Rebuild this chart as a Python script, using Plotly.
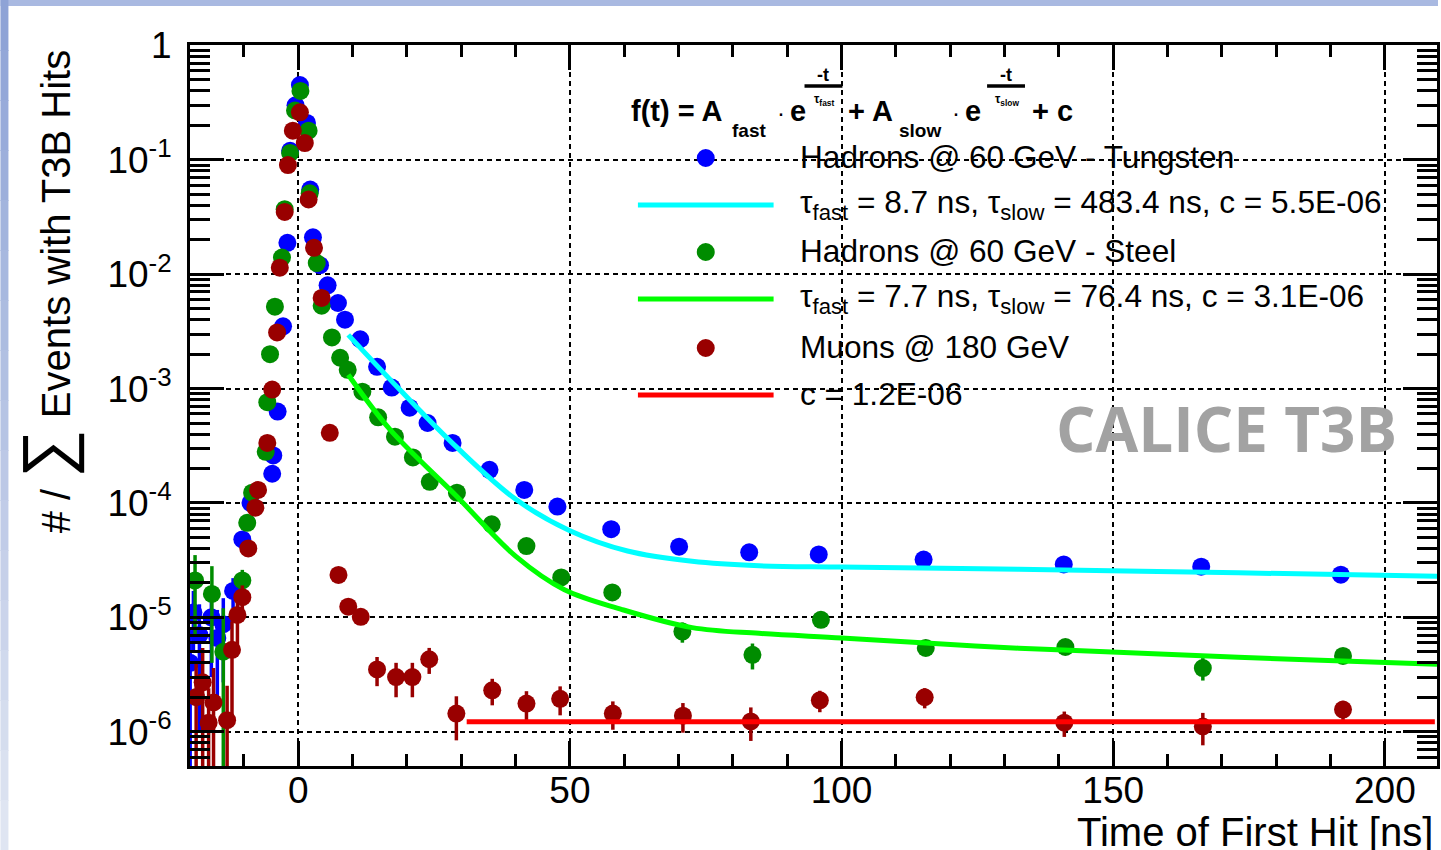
import plotly.graph_objects as go

# ---------------- data ----------------
# Hadrons @ 60 GeV - Tungsten
w_t = [-19.9, -19.3, -18.2, -16.0, -14.9, -13.8, -12.0, -10.3, -8.8, -4.8, -4.6, -3.8,
       -2.8, -2.0, -1.5, -0.5, 0.3, 1.6, 2.2, 2.7, 4.0, 5.4, 7.3, 8.6, 11.4, 14.5,
       17.2, 20.5, 23.8, 28.4, 35.2, 41.6, 47.7, 57.6, 70.1, 83.0, 95.8, 115.1,
       140.9, 166.2, 191.9]
w_frac = [4.0e-6, 1.1e-5, 7.0e-6, 1.0e-5, 6.6e-6, 8.7e-6, 1.7e-5, 4.8e-5, 1.0e-4, 1.8e-4,
          2.6e-4, 6.3e-4, 3.5e-3, 1.88e-2, 1.2e-1, 3.0e-1, 4.5e-1, 2.1e-1, 5.5e-2, 2.1e-2,
          1.2e-2, 8.0e-3, 5.6e-3, 4.0e-3, 2.7e-3, 1.55e-3, 1.02e-3, 6.8e-4, 5.0e-4, 3.35e-4,
          1.95e-4, 1.3e-4, 9.3e-5, 5.9e-5, 4.15e-5, 3.7e-5, 3.55e-5, 3.2e-5, 2.9e-5,
          2.77e-5, 2.36e-5]
w_err = [4.0e-6, 6.0e-6, 6.0e-6, 7.0e-6, 5.0e-6, 6.0e-6, 5.0e-6, 8.0e-6, 1.2e-5, 2.0e-5,
         2.5e-5, 4.0e-5, 1.0e-4, 4.0e-4, 2.0e-3, 4.0e-3, 5.0e-3, 3.0e-3, 1.0e-3, 5.0e-4,
         3.0e-4, 2.0e-4, 1.5e-4, 1.0e-4, 6.0e-5, 4.0e-5, 3.0e-5, 2.0e-5, 1.5e-5, 1.0e-5,
         8.0e-6, 6.0e-6, 5.0e-6, 4.0e-6, 3.0e-6, 2.5e-6, 2.5e-6, 2.0e-6, 2.5e-6,
         2.5e-6, 2.5e-6]

# Hadrons @ 60 GeV - Steel
fe_t = [-19.0, -15.9, -13.8, -10.3, -9.4, -8.5, -6.0, -5.7, -5.2, -4.3, -3.0, -2.5,
        -1.5, -0.6, 0.4, 1.9, 2.1, 3.4, 4.3, 6.2, 7.7, 9.1, 11.8, 14.7, 17.8, 21.1,
        24.2, 29.2, 35.6, 42.0, 48.4, 57.8, 70.7, 83.6, 96.2, 115.5, 141.2, 166.5, 192.3]
fe_frac = [2.1e-5, 1.6e-5, 5.0e-6, 2.1e-5, 6.7e-5, 1.23e-4, 2.8e-4, 7.6e-4, 2.0e-3, 5.2e-3,
           1.4e-2, 3.7e-2, 1.15e-1, 2.7e-1, 4.0e-1, 1.8e-1, 5.1e-2, 1.25e-2, 5.3e-3, 2.8e-3,
           1.86e-3, 1.46e-3, 9.4e-4, 5.6e-4, 3.8e-4, 2.5e-4, 1.53e-4, 1.23e-4, 6.5e-5,
           4.2e-5, 2.23e-5, 1.65e-5, 7.5e-6, 4.7e-6, 9.5e-6, 5.4e-6, 5.5e-6, 3.6e-6, 4.6e-6]
fe_err = [1.4e-5, 1.2e-5, 7.0e-6, 5.0e-6, 8.0e-6, 1.2e-5, 2.0e-5, 4.0e-5, 8.0e-5, 2.0e-4,
          4.0e-4, 1.0e-3, 2.0e-3, 4.0e-3, 5.0e-3, 3.0e-3, 1.0e-3, 3.0e-4, 2.0e-4, 1.0e-4,
          8.0e-5, 6.0e-5, 4.0e-5, 3.0e-5, 2.0e-5, 1.5e-5, 1.0e-5, 8.0e-6, 5.0e-6, 4.0e-6,
          2.5e-6, 2.0e-6, 1.5e-6, 1.2e-6, 1.0e-6, 0.6e-6, 0.6e-6, 0.8e-6, 0.6e-6]

# Muons @ 180 GeV
mu_t = [-18.8, -17.6, -16.5, -15.6, -13.1, -12.2, -11.2, -10.3, -9.2, -7.9, -7.4, -5.7,
        -4.8, -3.9, -3.4, -2.5, -1.9, -1.0, 0.3, 1.2, 1.9, 2.9, 4.3, 5.8, 7.4, 9.2, 11.5,
        14.5, 18.0, 21.0, 24.1, 29.1, 35.7, 42.0, 48.2, 57.9, 70.8, 83.3, 96.0, 115.3,
        141.0, 166.5, 192.3]
mu_frac = [2.0e-6, 2.7e-6, 1.2e-6, 1.8e-6, 1.26e-6, 5.2e-6, 1.05e-5, 1.5e-5, 4.0e-5, 9.1e-5,
           1.3e-4, 3.35e-4, 9.8e-4, 3.1e-3, 1.14e-2, 3.5e-2, 9.0e-2, 1.8e-1, 2.6e-1, 1.4e-1,
           4.5e-2, 1.7e-2, 6.2e-3, 4.1e-4, 2.35e-5, 1.24e-5, 1.01e-5, 3.5e-6, 3.0e-6, 3.0e-6,
           4.3e-6, 1.44e-6, 2.3e-6, 1.76e-6, 1.94e-6, 1.44e-6, 1.38e-6, 1.23e-6, 1.88e-6,
           2.0e-6, 1.2e-6, 1.11e-6, 1.56e-6]
mu_err = [2.0e-6, 2.7e-6, 1.2e-6, 1.8e-6, 1.26e-6, 4.0e-6, 5.0e-6, 4.0e-6, 5.0e-6, 1.0e-5,
          1.5e-5, 3.0e-5, 6.0e-5, 2.0e-4, 5.0e-4, 1.0e-3, 2.0e-3, 3.0e-3, 4.0e-3, 3.0e-3,
          1.0e-3, 5.0e-4, 2.0e-4, 3.0e-5, 3.0e-6, 1.5e-6, 1.5e-6, 1.0e-6, 1.0e-6, 1.0e-6,
          1.1e-6, 0.6e-6, 0.6e-6, 0.5e-6, 0.55e-6, 0.4e-6, 0.4e-6, 0.4e-6, 0.4e-6, 0.4e-6,
          0.3e-6, 0.35e-6, 0.3e-6]

# fitted curves
fit_w_t = [9.2, 18.7, 29.1, 40.1, 49.9, 60.6, 72.5, 84.8, 100.0, 132.6, 173.0, 209.6]
fit_w_val = [2.95e-3, 9.77e-4, 3.09e-4, 1.07e-4, 5.75e-5, 3.80e-5, 3.09e-5, 2.82e-5,
             2.75e-5, 2.63e-5, 2.45e-5, 2.29e-5]
fit_fe_t = [9.2, 16.9, 29.1, 40.1, 49.0, 59.6, 72.5, 84.8, 100.0, 115.5, 132.6, 148.6,
            173.0, 209.6]
fit_fe_val = [1.32e-3, 4.37e-4, 1.15e-4, 3.39e-5, 1.74e-5, 1.17e-5, 8.13e-6, 7.24e-6,
              6.61e-6, 5.96e-6, 5.37e-6, 5.01e-6, 4.47e-6, 3.89e-6]
fit_mu_t = [31.0, 209.2]
fit_mu_val = [1.22e-6, 1.22e-6]

x_ticks = [0, 50, 100, 150, 200]
y_ticks = [1, 1e-1, 1e-2, 1e-3, 1e-4, 1e-5, 1e-6]
y_tick_text = ["1", "10<sup>-1</sup>", "10<sup>-2</sup>", "10<sup>-3</sup>",
               "10<sup>-4</sup>", "10<sup>-5</sup>", "10<sup>-6</sup>"]

legend_rows = [
    ("marker", "#0000ff", "Hadrons @ 60 GeV - Tungsten"),
    ("line", "#00ffff", "τ<sub>fast</sub> = 8.7 ns, τ<sub>slow</sub> = 483.4 ns, c = 5.5E-06"),
    ("marker", "#008c00", "Hadrons @ 60 GeV - Steel"),
    ("line", "#00ff00", "τ<sub>fast</sub> = 7.7 ns, τ<sub>slow</sub> = 76.4 ns, c = 3.1E-06"),
    ("marker", "#990000", "Muons @ 180 GeV"),
    ("line", "#ff0000", "c = 1.2E-06"),
]

# ---------------- geometry helpers ----------------
W, H = 1441, 850
ML, MR, MT, MB = 190, 1, 45, 84
PW, PH = W - ML - MR, H - MT - MB
FONT = "Liberation Sans, Arial, Helvetica, sans-serif"


def fx(px):
    return (px - ML) / PW


def fy(py):
    return (MT + PH - py) / PH


fig = go.Figure()


def add_points(t, v, e, color):
    fig.add_trace(go.Scatter(
        x=t, y=v, mode="markers",
        marker=dict(color=color, size=18, line=dict(width=0)),
        error_y=dict(type="data", array=e, arrayminus=e, color=color,
                     thickness=3.5, width=0),
        showlegend=False, hoverinfo="x+y"))


def add_fit(t, v, color):
    fig.add_trace(go.Scatter(
        x=t, y=v, mode="lines", line=dict(color=color, width=5, shape="spline"),
        showlegend=False, hoverinfo="skip"))


add_points(w_t, w_frac, w_err, "#0000ff")
add_fit(fit_w_t, fit_w_val, "#00ffff")
add_points(fe_t, fe_frac, fe_err, "#008c00")
add_fit(fit_fe_t, fit_fe_val, "#00ff00")
add_points(mu_t, mu_frac, mu_err, "#990000")
add_fit(fit_mu_t, fit_mu_val, "#ff0000")

shapes = []
annotations = []

# slide frame strips
shapes.append(dict(type="rect", xref="paper", yref="paper", layer="above",
                   x0=fx(0), x1=fx(W), y0=fy(0), y1=fy(6),
                   fillcolor="#a9b9e1", line=dict(width=0)))
strip_top = (0x8e, 0xa3, 0xd6)
strip_bot = (0xdf, 0xe5, 0xf2)
n_band = 17
for i in range(n_band):
    f = i / (n_band - 1)
    col = "rgb(%d,%d,%d)" % tuple(round(a + (b - a) * f) for a, b in zip(strip_top, strip_bot))
    shapes.append(dict(type="rect", xref="paper", yref="paper", layer="above",
                       x0=fx(0), x1=fx(8), y0=fy(i * H / n_band), y1=fy((i + 1) * H / n_band + 1),
                       fillcolor=col, line=dict(width=0)))


def txt(px, py, s, size, anchor="left", bold=False, color="black"):
    if bold:
        s = "<b>" + s + "</b>"
    annotations.append(dict(xref="paper", yref="paper", x=fx(px), y=fy(py), text=s,
                            showarrow=False, xanchor=anchor, yanchor="middle",
                            font=dict(family=FONT, size=size, color=color)))


# formula header
txt(630, 111, "f(t) = A", 29, bold=True)
txt(731, 131, "fast", 19, bold=True)
txt(776, 113, "·", 24)
txt(789, 111, "e", 29, bold=True)
txt(848, 111, "+ A", 29, bold=True)
txt(899, 131, "slow", 19, bold=True)
txt(952, 113, "·", 24)
txt(965, 111, "e", 29, bold=True)
txt(1032, 111, "+ c", 29, bold=True)
for cx, sub in ((825, "fast"), (1008, "slow")):
    txt(cx, 75, "-t", 18, anchor="center", bold=True)
    txt(cx + 1, 100, "τ<sub>" + sub + "</sub>", 12, anchor="center", bold=True)
    shapes.append(dict(type="line", xref="paper", yref="paper",
                       x0=fx(cx - 19), x1=fx(cx + 19), y0=fy(86), y1=fy(86),
                       line=dict(color="black", width=3.5)))

# legend rows
row_y = [158, 205, 252, 299, 348, 395]
for (kind, color, label), py in zip(legend_rows, row_y):
    if kind == "marker":
        shapes.append(dict(type="circle", xref="paper", yref="paper",
                           xsizemode="pixel", ysizemode="pixel",
                           xanchor=fx(707), yanchor=fy(py),
                           x0=-9, x1=9, y0=-9, y1=9,
                           fillcolor=color, line=dict(width=0)))
    else:
        shapes.append(dict(type="line", xref="paper", yref="paper",
                           x0=fx(639), x1=fx(775), y0=fy(py), y1=fy(py),
                           line=dict(color=color, width=5)))
    txt(799, py - 1, label, 31.6)

# watermark
txt(1056, 428, "CALICE T3B", 62, bold=True, color="#a2a2a2")
annotations[-1]["font"]["family"] = "Open Sans, sans-serif"

# axis titles
annotations.append(dict(xref="paper", yref="paper", x=fx(1438), y=fy(832),
                        xanchor="right", yanchor="middle", showarrow=False,
                        text="Time of First Hit [ns]",
                        font=dict(family=FONT, size=40, color="black")))
annotations.append(dict(xref="paper", yref="paper", x=fx(46), y=fy(292),
                        xanchor="center", yanchor="middle", showarrow=False,
                        textangle=-90,
                        text="# / <span style='font-size:68px'>∑</span> Events with T3B Hits",
                        font=dict(family=FONT, size=40, color="black")))

grid = dict(showgrid=True, gridcolor="black", gridwidth=2, griddash="5px,4px")

fig.update_layout(
    width=W, height=H, autosize=False,
    margin=dict(l=ML, r=MR, t=MT, b=MB, pad=0),
    paper_bgcolor="white", plot_bgcolor="white",
    showlegend=False,
    shapes=shapes, annotations=annotations,
    xaxis=dict(range=[-19.93, 209.6], tickvals=x_ticks, ticks="inside", ticklen=25,
               tickwidth=3, tickcolor="black", showline=True, linewidth=3,
               linecolor="black", mirror="allticks", zeroline=False,
               tickfont=dict(family=FONT, size=37, color="black"),
               ticklabelstandoff=-10,
               minor=dict(ticks="inside", ticklen=12, tickwidth=3, tickcolor="black",
                          tick0=0, dtick=10, showgrid=False),
               **grid),
    yaxis=dict(type="log", range=[-6.3, 0.004], tickvals=y_ticks, ticktext=y_tick_text,
               ticks="inside", ticklen=34, tickwidth=3, tickcolor="black",
               showline=True, linewidth=3, linecolor="black", mirror="allticks",
               zeroline=False, tickfont=dict(family=FONT, size=37, color="black"),
               ticklabelstandoff=8,
               minor=dict(ticks="inside", ticklen=20, tickwidth=3, tickcolor="black",
                          dtick="D1", showgrid=False),
               **grid),
)

fig.write_html("out.html")
